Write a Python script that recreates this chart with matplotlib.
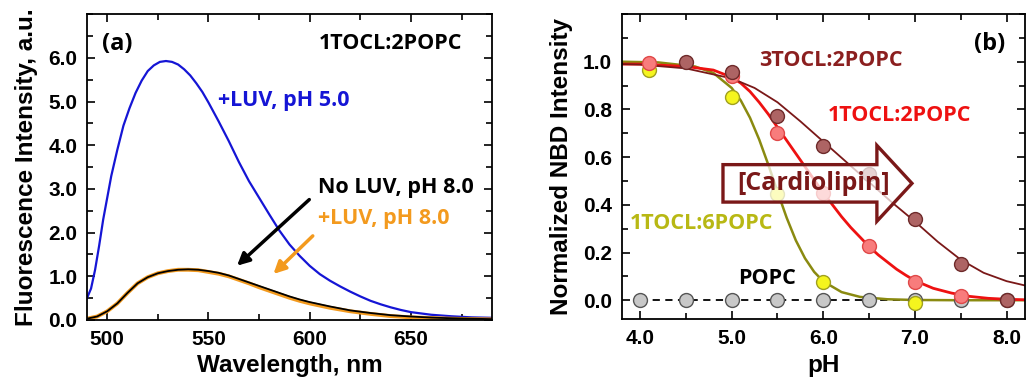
import matplotlib
matplotlib.use('Agg')
import matplotlib.pyplot as plt
from matplotlib.patches import FancyArrow
from matplotlib.ticker import MultipleLocator, FormatStrFormatter

# ---- panel (a): emission spectra ----
wl_blue = [490, 492, 494, 496, 498, 500, 502, 505, 508, 511, 514, 517, 520, 523, 526, 529,
           532, 535, 538, 541, 544, 547, 550, 555, 560, 565, 570, 575, 580, 585, 590, 595,
           600, 605, 610, 615, 620, 625, 630, 635, 640, 645, 650, 660, 670, 680, 690]
int_blue = [0.50, 0.72, 1.15, 1.70, 2.30, 2.80, 3.30, 3.90, 4.45, 4.85, 5.20, 5.48, 5.70, 5.83, 5.91, 5.93,
            5.91, 5.85, 5.74, 5.60, 5.42, 5.22, 4.98, 4.55, 4.10, 3.62, 3.18, 2.80, 2.42, 2.05, 1.73, 1.47,
            1.24, 1.05, 0.90, 0.77, 0.65, 0.54, 0.44, 0.36, 0.29, 0.23, 0.18, 0.12, 0.085, 0.06, 0.05]

wl_low = [490, 495, 500, 505, 510, 515, 520, 525, 530, 535, 540, 545, 550, 555, 560, 565,
          570, 575, 580, 585, 590, 595, 600, 610, 620, 630, 640, 650, 660, 670, 680, 690]
int_noluv = [0.03, 0.08, 0.20, 0.38, 0.62, 0.84, 0.98, 1.07, 1.12, 1.15, 1.16, 1.15, 1.12, 1.08, 1.02, 0.94,
             0.86, 0.78, 0.70, 0.62, 0.54, 0.47, 0.41, 0.31, 0.22, 0.16, 0.11, 0.08, 0.055, 0.04, 0.03, 0.02]
int_luv8 = [0.03, 0.08, 0.20, 0.38, 0.62, 0.84, 0.98, 1.07, 1.12, 1.15, 1.15, 1.14, 1.10, 1.06, 1.00, 0.92,
            0.84, 0.75, 0.67, 0.59, 0.51, 0.44, 0.38, 0.28, 0.20, 0.14, 0.09, 0.06, 0.045, 0.03, 0.02, 0.015]

# ---- panel (b): normalized NBD intensity vs pH ----
ph_popc = [4.0, 4.5, 5.0, 5.5, 6.0, 6.5, 7.0, 7.5, 8.0]
y_popc = [0, 0, 0, 0, 0, 0, 0, 0, 0]

ph_16 = [4.1, 5.0, 5.5, 6.0, 7.0]
y_16 = [0.965, 0.854, 0.445, 0.077, -0.011]
fit_ph_16 = [3.8, 4.2, 4.6, 4.8, 5.0, 5.1, 5.2, 5.3, 5.4, 5.5, 5.6, 5.7, 5.8, 5.9, 6.0, 6.2, 6.4, 6.7, 7.0, 7.5, 8.2]
fit_y_16 = [1.0, 0.997, 0.980, 0.953, 0.890, 0.837, 0.765, 0.674, 0.568, 0.455, 0.346, 0.251, 0.176, 0.119,
            0.079, 0.034, 0.014, 0.004, 0.001, 0.0, 0.0]

ph_12 = [4.1, 5.0, 5.5, 6.0, 6.5, 7.0, 7.5]
y_12 = [0.995, 0.94, 0.70, 0.45, 0.226, 0.077, 0.018]
fit_ph_12 = [3.8, 4.0, 4.5, 4.8, 5.0, 5.1, 5.2, 5.3, 5.4, 5.5, 5.6, 5.7, 5.8, 5.9, 6.0, 6.1, 6.2, 6.3, 6.4,
             6.5, 6.6, 6.7, 6.8, 6.9, 7.0, 7.2, 7.4, 7.6, 7.8, 8.0, 8.2]
fit_y_12 = [0.99, 0.99, 0.98, 0.965, 0.935, 0.91, 0.875, 0.83, 0.78, 0.725, 0.67, 0.615, 0.56, 0.505, 0.45,
            0.40, 0.35, 0.305, 0.265, 0.225, 0.19, 0.16, 0.13, 0.105, 0.082, 0.05, 0.03, 0.016, 0.008, 0.004, 0.002]

ph_32 = [4.5, 5.0, 5.5, 6.0, 6.5, 7.0, 7.5, 8.0]
y_32 = [1.0, 0.957, 0.773, 0.645, 0.53, 0.342, 0.15, 0.0]
fit_ph_32 = [3.8, 4.0, 4.5, 5.0, 5.25, 5.5, 5.75, 6.0, 6.25, 6.5, 6.75, 7.0, 7.25, 7.5, 7.75, 8.0, 8.2]
fit_y_32 = [0.99, 0.988, 0.972, 0.93, 0.89, 0.83, 0.75, 0.665, 0.58, 0.495, 0.41, 0.33, 0.245, 0.17,
            0.115, 0.08, 0.062]

ANN = ['Open Sans', 'DejaVu Sans']
plt.rcParams['font.family'] = ['Liberation Sans', 'DejaVu Sans']
plt.rcParams['font.weight'] = 'bold'

fig = plt.figure(figsize=(10.27, 3.83), dpi=100)
ax1 = fig.add_axes([0.0847, 0.1645, 0.3943, 0.7982])
ax2 = fig.add_axes([0.6054, 0.1663, 0.3925, 0.7971])

for ax in (ax1, ax2):
    ax.tick_params(which='both', direction='in', top=True, right=True, width=1.2, labelsize=15, pad=7)
    ax.tick_params(which='major', length=6)
    ax.tick_params(which='minor', length=4)
    for s in ax.spines.values():
        s.set_linewidth(1.3)

# (a)
ax1.plot(wl_blue, int_blue, color='#1515d5', lw=1.6)
ax1.plot(wl_low, int_luv8, color='#f39a1e', lw=2.8)
ax1.plot(wl_low, int_noluv, color='black', lw=1.3)
ax1.set_xlim(490, 690)
ax1.set_ylim(0, 7.0)
ax1.xaxis.set_major_locator(MultipleLocator(50))
ax1.xaxis.set_minor_locator(MultipleLocator(25))
ax1.yaxis.set_minor_locator(MultipleLocator(0.5))
ax1.set_yticks([0, 1, 2, 3, 4, 5, 6])
ax1.yaxis.set_major_formatter(FormatStrFormatter('%.1f'))
ax1.set_xlabel('Wavelength, nm', fontsize=17.5, fontweight='bold', labelpad=4)
ax1.set_ylabel('Fluorescence Intensity, a.u.', fontsize=17.5, fontweight='bold', labelpad=7)

ax1.text(497.5, 6.33, '(a)', fontsize=17, family=ANN, ha='left', va='center')
ax1.text(675.4, 6.33, '1TOCL:2POPC', fontsize=15.5, family=ANN, ha='right', va='center')
ax1.text(554.7, 5.02, '+LUV, pH 5.0', fontsize=15.5, family=ANN, color='#1515d5', va='center')
ax1.text(603.9, 3.03, 'No LUV, pH 8.0', fontsize=15.5, family=ANN, color='black', va='center')
ax1.text(603.9, 2.32, '+LUV, pH 8.0', fontsize=15.5, family=ANN, color='#f39a1e', va='center')
ax1.annotate('', xy=(563.1, 1.20), xytext=(600.8, 2.80),
             arrowprops=dict(arrowstyle='-|>', color='black', lw=2.5, mutation_scale=18))
ax1.annotate('', xy=(581.1, 1.01), xytext=(602.5, 1.97),
             arrowprops=dict(arrowstyle='-|>', color='#f39a1e', lw=2.5, mutation_scale=18))

# (b)
ax2.plot([4.0, 8.0], [0, 0], color='black', lw=1.3, ls=(0, (4, 3)), zorder=2)
ax2.plot(fit_ph_16, fit_y_16, color='#8a8a10', lw=1.8, zorder=2)
ax2.plot(fit_ph_12, fit_y_12, color='#ee1111', lw=2.0, zorder=2)
ax2.plot(fit_ph_32, fit_y_32, color='#7a1818', lw=1.3, zorder=2)
ms = 10
ax2.plot(ph_popc, y_popc, 'o', ms=ms, mfc='#c8c8c8', mec='#555555', mew=1.0, zorder=3)
ax2.plot(ph_16, y_16, 'o', ms=ms, mfc='#f5f51e', mec='#a0a020', mew=1.0, zorder=4)
ax2.plot(ph_12, y_12, 'o', ms=ms, mfc='#f87c7c', mec='#e04848', mew=1.0, zorder=5)
ax2.plot(ph_32, y_32, 'o', ms=ms, mfc='#ad6464', mec='#6e2a2a', mew=1.0, zorder=6)
ax2.set_xlim(3.8, 8.2)
ax2.set_ylim(-0.08, 1.2)
ax2.set_xticks([4, 5, 6, 7, 8])
ax2.set_yticks([0, 0.2, 0.4, 0.6, 0.8, 1.0])
ax2.xaxis.set_minor_locator(MultipleLocator(0.5))
ax2.yaxis.set_minor_locator(MultipleLocator(0.1))
ax2.xaxis.set_major_formatter(FormatStrFormatter('%.1f'))
ax2.yaxis.set_major_formatter(FormatStrFormatter('%.1f'))
ax2.set_xlabel('pH', fontsize=17.5, fontweight='bold', labelpad=4)
ax2.set_ylabel('Normalized NBD Intensity', fontsize=17.5, fontweight='bold', labelpad=7)

arrow = FancyArrow(4.905, 0.49, 2.063, 0, width=0.157, head_width=0.318, head_length=0.383,
                   length_includes_head=True, fc=(1, 1, 1, 0.72), ec='#7a1818', lw=2.4, zorder=7)
ax2.add_patch(arrow)
ax2.text(5.898, 0.49, '[Cardiolipin]', fontsize=18, family=ANN, color='#7a1818',
         ha='center', va='center', zorder=8)
ax2.text(7.64, 1.074, '(b)', fontsize=17, family=ANN, va='center')
ax2.text(5.296, 1.006, '3TOCL:2POPC', fontsize=15.5, family=ANN, color='#8b1f1f', va='center')
ax2.text(6.05, 0.773, '1TOCL:2POPC', fontsize=15.5, family=ANN, color='#ee1111', va='center')
ax2.text(3.883, 0.322, '1TOCL:6POPC', fontsize=15.5, family=ANN, color='#b8b814', va='center')
ax2.text(5.066, 0.092, 'POPC', fontsize=15.5, family=ANN, color='black', va='center')

for ax in (ax1, ax2):
    for lab in ax.get_xticklabels() + ax.get_yticklabels():
        lab.set_fontweight('bold')

fig.savefig('out.png', dpi=100)
